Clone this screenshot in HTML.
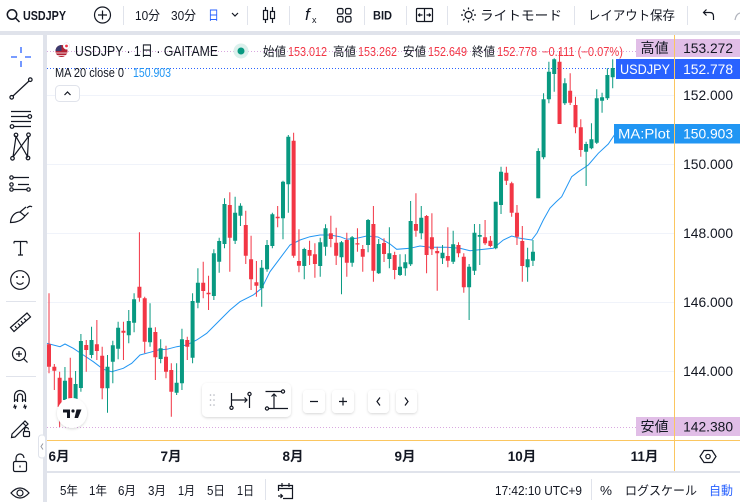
<!DOCTYPE html>
<html><head><meta charset="utf-8"><style>
html,body{margin:0;padding:0;background:#e0e3eb;}
body{width:740px;height:502px;overflow:hidden;position:relative;font-family:"Liberation Sans","Noto Sans CJK JP",sans-serif;}
svg{position:absolute;left:0;top:0;}
text{font-family:"Liberation Sans","Noto Sans CJK JP",sans-serif;}
</style></head><body>
<svg width="740" height="502" viewBox="0 0 740 502" xmlns="http://www.w3.org/2000/svg">
<defs>
<filter id="sh" x="-20%" y="-20%" width="140%" height="160%"><feDropShadow dx="0" dy="1" stdDeviation="1.4" flood-color="#000" flood-opacity="0.16"/></filter>
<clipPath id="pane"><rect x="47" y="35" width="627" height="405"/></clipPath>
</defs>
<!-- panels -->
<rect x="0" y="0" width="740" height="31" fill="#fff"/>
<rect x="0" y="35" width="43" height="467" fill="#fff"/>
<rect x="47" y="35" width="693" height="436" fill="#fff"/>
<rect x="47" y="473" width="693" height="29" fill="#fff"/>

<!-- top toolbar -->
<g fill="none" stroke="#131722" stroke-width="1.5">
<circle cx="12" cy="14.5" r="4.7"/><path d="M15.5 18L19.5 22"/>
</g>
<text x="23" y="20" font-size="13" font-weight="bold" fill="#131722" textLength="43" lengthAdjust="spacingAndGlyphs">USDJPY</text>
<g fill="none" stroke="#131722" stroke-width="1.2">
<circle cx="102.5" cy="15" r="8"/><path d="M102.5 10.5V19.5M98 15H107"/>
</g>
<g stroke="#e0e3eb" stroke-width="1">
<path d="M123.5 6V25M247.5 6V25M289.5 6V25M364.5 6V25M406.5 6V25M447.5 6V25M574.5 6V25M687.5 6V25"/>
</g>
<text x="135" y="20" font-size="13" fill="#131722" textLength="25" lengthAdjust="spacingAndGlyphs">10分</text>
<text x="171" y="20" font-size="13" fill="#131722" textLength="25" lengthAdjust="spacingAndGlyphs">30分</text>
<text x="208" y="20" font-size="13" fill="#2962ff" textLength="11" lengthAdjust="spacingAndGlyphs">日</text>
<path d="M232 13L235 16L238 13" fill="none" stroke="#131722" stroke-width="1.2"/>
<g fill="none" stroke="#131722" stroke-width="1.2">
<path d="M265.5 7V23M272.5 7V23"/>
<rect x="263.5" y="10.5" width="4" height="9" fill="#fff"/>
<rect x="270.5" y="11.5" width="4" height="7" fill="#fff"/>
</g>
<text x="305" y="20" font-size="17" font-family="Liberation Serif, serif" font-style="italic" fill="#131722">f</text>
<text x="312" y="23" font-size="9" fill="#131722">x</text>
<g fill="none" stroke="#131722" stroke-width="1.2">
<rect x="337.5" y="8.5" width="5.5" height="5.5" rx="1.5"/><rect x="345.5" y="8.5" width="5.5" height="5.5" rx="1.5"/>
<rect x="337.5" y="16.5" width="5.5" height="5.5" rx="1.5"/><rect x="345.5" y="16.5" width="5.5" height="5.5" rx="1.5"/>
</g>
<text x="373" y="19.5" font-size="12" font-weight="bold" fill="#131722" textLength="19" lengthAdjust="spacingAndGlyphs">BID</text>
<g fill="none" stroke="#131722" stroke-width="1.2">
<rect x="416.5" y="8.5" width="16" height="13" rx="1"/><path d="M424.5 8.5V21.5M418.5 15H422.5M426.5 15H430.5M420 13.5L418.5 15L420 16.5M429 13.5L430.5 15L429 16.5"/>
</g>
<g fill="none" stroke="#131722" stroke-width="1.2">
<circle cx="468.5" cy="15" r="3.5"/>
<path d="M468.5 7.5V9.5M468.5 20.5V22.5M461 15H463M474 15H476M463.2 9.7L464.6 11.1M472.4 18.9L473.8 20.3M463.2 20.3L464.6 18.9M472.4 11.1L473.8 9.7"/>
</g>
<text x="480" y="20" font-size="13" fill="#131722" textLength="82" lengthAdjust="spacingAndGlyphs">ライトモード</text>
<text x="588" y="20" font-size="13" fill="#131722" textLength="87" lengthAdjust="spacingAndGlyphs">レイアウト保存</text>
<path d="M704 12.5H710Q713.5 12.5 713.5 16.5V20M706.5 9.5L703.5 12.5L706.5 15.5" fill="none" stroke="#131722" stroke-width="1.2"/>
<path d="M735 20Q736 14 740 13" fill="none" stroke="#b2b5be" stroke-width="1.2"/>

<!-- left toolbar -->
<g fill="none" stroke="#2962ff" stroke-width="1.3"><path d="M21 47V53M21 61V67M11 57H17M25 57H31"/></g>
<g fill="none" stroke="#131722" stroke-width="1.2">
<path d="M13 96L29 81"/><circle cx="11.7" cy="97.3" r="1.8"/><circle cx="30.3" cy="79.7" r="1.8"/>
<path d="M11 111.5H31M11 116.5H28M11 121.5H31M14 126.5H31"/><circle cx="29.8" cy="116.5" r="1.8"/><circle cx="12" cy="126.5" r="1.8"/>
<path d="M13 157L16 136.5L27.5 156.5L28.5 136.5M13 157L28.5 136.5"/><circle cx="12.5" cy="158.3" r="1.8"/><circle cx="16" cy="135" r="1.8"/><circle cx="28.5" cy="134.8" r="1.8"/><circle cx="28" cy="158" r="1.8"/>
<path d="M13 177.5H29M18 184.5H29M13 189.5H27"/><circle cx="11.5" cy="177.5" r="1.7"/><circle cx="11.5" cy="184.5" r="1.7"/><circle cx="28.5" cy="189.5" r="1.7"/><circle cx="11.5" cy="189.5" r="1.7"/>
<path d="M10.5 222.5C11 216 15 212 20 212L25 216C22 220 17 222.5 10.5 222.5ZM20 212L26 207M25 216L28.5 212.5M27 208Q30 205 32 207"/>
<path d="M14 241.5H27M20.5 241.5V255M18 255H23M14 241.5V243.5M27 241.5V243.5"/>
<circle cx="20" cy="280" r="9.3"/><path d="M16.5 282.5Q20 286 23.5 282.5"/>
<path d="M10.5 327.5L27 313L30.5 317L14 331.5ZM15 326L16.5 328M18 323.5L20 325.5M21 321L22.5 323M24 318.5L26 320.5"/>
<circle cx="19" cy="354" r="6.5"/><path d="M23.6 358.6L27.5 362.5M16 354H22M19 351V357"/>
<path d="M14.5 402V396A5.5 5.5 0 0 1 25.5 396V402M17.5 402V396.5A2.5 2.5 0 0 1 22.5 396.5V402M14.5 400H17.5M22.5 400H25.5"/>
<path d="M15 404.5L14 407L16 406.5L15 409M25 404.5L24 407L26 406.5L25 409"/>
<path d="M12 434L25 421L28 424L15 437L11.5 437.5ZM23 423L26 426"/><rect x="23.5" y="431.5" width="6" height="5" rx="1"/><path d="M24.5 431.5V429.5A2 2 0 0 1 28.5 429.5"/>
<rect x="13.5" y="461.5" width="13" height="10" rx="1.5"/><path d="M16 461.5V458A4 4 0 0 1 24 458"/><path d="M20 465.5V467.5"/>
<path d="M11 493Q20 483 29 493Q20 503 11 493Z"/><circle cx="20" cy="493" r="3"/>
</g>
<g fill="#131722"><circle cx="17" cy="277" r="1"/><circle cx="23" cy="277" r="1"/></g>
<path d="M6 301.5H36M6 376.5H36" stroke="#e0e3eb"/>
<rect x="38.5" y="435" width="7" height="23" rx="3" fill="#fff" stroke="#e0e3eb"/>
<path d="M43 443.5L41 446.5L43 449.5" fill="none" stroke="#9598a1" stroke-width="1"/>

<!-- grid -->
<g stroke="#f0f3fa" stroke-width="1">
<path d="M47 95.5H674M47 164.5H674M47 233.5H674M47 302.5H674M47 371.5H674"/>
</g>

<!-- dotted lines -->
<path d="M47 51.5H636" stroke="#d9a8e0" stroke-width="1" stroke-dasharray="1 2"/>
<path d="M47 427.5H636" stroke="#d9a8e0" stroke-width="1" stroke-dasharray="1 2"/>
<path d="M47 68.5H616" stroke="#2962ff" stroke-width="1" stroke-dasharray="1 2"/>

<g clip-path="url(#pane)">
<!-- MA -->
<polyline fill="none" stroke="#2196f3" stroke-width="1" points="47,343.3 60,346.7 65,344 73.3,348.3 83.3,355 93.3,361.7 103.3,369.3 111.7,371.7 123.3,368.3 131.7,363.3 140,355 150,352.3 158.3,350 166.7,349.3 176.7,346.7 186.7,345 196.7,340 206.7,333.3 220,320 230,310 240,301.7 253.3,295 261.7,288.3 270,271.7 280,258.3 290,245 300,240 310,236.7 320,235 330,235 340,236.7 346.7,239.3 356.7,238.3 366.7,236 378,237 390,244 396.7,249.3 410,248.3 420,246 430,247.3 446.7,247.3 460,248.3 470,250.7 493.3,248.3 503.3,240 511.7,236 520,238.3 531.7,240 537,233 543.3,220 550,208 556,202 561.7,196.7 571.7,176.7 578.3,171.7 588.3,165 598.3,153.3 608.3,144 615,134"/>
<!-- red wicks -->
<path fill="none" stroke="#f23645" stroke-width="1" d="M49 293.3V373.3M54.32 364V390M59.64 371.7V427M70.27 357.7V403M86.23 340V371.7M96.86 320V360M102.18 346.7V399.3M123.45 321.7V360M139.41 232.3V301.7M144.72 296.7V353.3M155.36 327.3V380M166 345.7V378.3M171.31 363.3V416.7M187.27 336.7V360M203.22 261.7V298.3M208.54 275.7V310M229.81 192.3V271.7M245.77 210.7V264M251.08 235.7V290M256.4 261V296.7M277.67 206V227.3M293.63 132.7V257.7M298.95 229.3V272.3M309.58 240.7V265M314.9 243.3V277.7M330.85 215.7V247.3M336.17 227.7V265M346.81 232.7V276.7M357.44 228.3V251.7M362.76 245V271.7M373.4 206V281.7M384.03 238.3V262M394.67 251.7V279.3M415.94 193.3V236.7M426.58 215V273.3M431.9 213.3V255M437.21 246.7V290.7M447.85 227.3V267.3M458.49 242.3V257.3M463.8 253.3V292.7M485.08 220V245M490.39 236V247.3M506.35 166.7V185M511.67 181.7V216.7M516.98 205V245M522.3 226V281.7M559.53 51V124M570.16 73.3V105M575.48 96.7V133.3M580.8 119.3V156.7"/>
<!-- red bodies -->
<path fill="#f23645" d="M47 344.3h4V366.7h-4zM52.32 366.7h4V370.7h-4zM57.64 377.7h4V407h-4zM68.27 377.7h4V400h-4zM84.23 345h4V350h-4zM94.86 344.3h4V351h-4zM100.18 355.7h4V388.3h-4zM121.45 330.7h4V332.7h-4zM137.41 286.7h4V297.7h-4zM142.72 298.3h4V341.7h-4zM153.36 332h4V357.3h-4zM164 356.7h4V371.7h-4zM169.31 370h4V391.7h-4zM185.27 340h4V346.7h-4zM201.22 282.7h4V291h-4zM206.54 292.7h4V294.3h-4zM227.81 205h4V237.7h-4zM243.77 225h4V255.7h-4zM249.08 259.3h4V279.3h-4zM254.4 282.3h4V285.7h-4zM275.67 216.7h4V218.3h-4zM291.63 140.7h4V255.7h-4zM296.95 261h4V265.7h-4zM307.58 250h4V255.7h-4zM312.9 254.3h4V264h-4zM328.85 233.3h4V239h-4zM334.17 242.7h4V255.7h-4zM344.81 240h4V262.7h-4zM355.44 243.3h4V244.5h-4zM360.76 249h4V256.7h-4zM371.4 224h4V270.7h-4zM382.03 243h4V254h-4zM392.67 255h4V270h-4zM413.94 224h4V230.7h-4zM424.58 216h4V255h-4zM429.9 237.3h4V249.3h-4zM435.21 251h4V253.3h-4zM445.85 256h4V260.7h-4zM456.49 245h4V253.3h-4zM461.8 256.7h4V287.3h-4zM483.08 237.3h4V243.3h-4zM488.39 240.7h4V246h-4zM504.35 172.7h4V180.7h-4zM509.67 183.3h4V212.7h-4zM514.98 212.7h4V236.7h-4zM520.3 241h4V266h-4zM557.53 61.7h4V124h-4zM568.16 90.7h4V102.7h-4zM573.48 105h4V127.3h-4zM578.8 127.3h4V150h-4z"/>
<!-- green wicks -->
<path fill="none" stroke="#089981" stroke-width="1" d="M64.95 367V403M75.59 371V403M80.91 334V391.7M91.54 326.7V358.3M107.5 355V412.7M112.82 340.7V383.3M118.13 321.7V359.3M128.77 310V343.3M134.09 293.3V332.3M150.04 303.3V346.7M160.68 339.3V363.3M176.63 363.3V395M181.95 328.7V390M192.59 293.3V363.3M197.9 268.3V308.3M213.86 249.3V300M219.18 237.7V272.7M224.49 198.3V248.3M235.13 196.7V244M240.45 203.3V226M261.72 260V306.7M267.04 240V271.7M272.36 212.7V248.3M282.99 180.7V239.3M288.31 135V212.7M304.26 247.7V279.3M320.22 237.7V276.7M325.54 224.3V255.7M341.49 241V294.3M352.13 236V266.7M368.08 219V252.3M378.72 239V274M389.35 227.3V268.3M399.99 254.3V276M405.31 254.3V275.7M410.62 201V266M421.26 206V239.3M442.53 245V264M453.17 230.7V264M469.12 264V320M474.44 224V275M479.76 224V265M495.71 201.7V249.3M501.03 166.7V214M527.62 247.7V281.7M532.94 240V266M538.26 148.3V198.3M543.57 93.3V159.3M548.89 61.7V103.3M554.21 58.3V91.7M564.85 78.3V105M586.12 141.7V186M591.44 123.3V149.3M596.75 89.3V144M602.07 92.7V112.7M607.39 68.3V100M612.71 59.3V88.3"/>
<!-- green bodies -->
<path fill="#089981" d="M62.95 380.7h4V400h-4zM73.59 384h4V400h-4zM78.91 341h4V388h-4zM89.54 340h4V355h-4zM105.5 366.7h4V388.3h-4zM110.82 345.3h4V361.7h-4zM116.13 327.7h4V348.7h-4zM126.77 321h4V335.3h-4zM132.09 299.3h4V322.7h-4zM148.04 327.7h4V342.3h-4zM158.68 348.3h4V359h-4zM174.63 382.7h4V392.7h-4zM179.95 339.3h4V383.3h-4zM190.59 301h4V357.7h-4zM195.9 282.7h4V302.7h-4zM211.86 253.3h4V296h-4zM217.18 241h4V261.7h-4zM222.49 204h4V244h-4zM233.13 212.7h4V240.7h-4zM238.45 205.7h4V215.7h-4zM259.72 267.7h4V288.3h-4zM265.04 245h4V269.3h-4zM270.36 214.3h4V246h-4zM280.99 181.7h4V218.3h-4zM286.31 136.7h4V184.3h-4zM302.26 249h4V266h-4zM318.22 242.3h4V266h-4zM323.54 228.3h4V246.7h-4zM339.49 242.3h4V257.3h-4zM350.13 237.3h4V262.7h-4zM366.08 220h4V245h-4zM376.72 244h4V273.3h-4zM387.35 253.3h4V259h-4zM397.99 266.7h4V275h-4zM403.31 262.3h4V268.3h-4zM408.62 221h4V264.3h-4zM419.26 217.7h4V233.3h-4zM440.53 252.7h4V258.3h-4zM451.17 244.3h4V261.7h-4zM467.12 266.7h4V287.3h-4zM472.44 232.7h4V270.7h-4zM477.76 235h4V236.7h-4zM493.71 201.7h4V248.3h-4zM499.03 171.7h4V205h-4zM525.62 259.3h4V267.3h-4zM530.94 251.7h4V260.7h-4zM536.26 151h4V198.3h-4zM541.57 99.3h4V157.3h-4zM546.89 71.7h4V99.3h-4zM552.21 59.3h4V74h-4zM562.85 83.3h4V103.3h-4zM584.12 144h4V151.7h-4zM589.44 139.3h4V148.3h-4zM594.75 98.3h4V142.7h-4zM600.07 97.3h4V100.7h-4zM605.39 75h4V98.3h-4zM610.71 68h4V77.3h-4z"/>
</g>

<!-- legend -->
<circle cx="61.5" cy="51" r="6" fill="#b22234"/>
<path d="M61.5 45A6 6 0 0 0 55.5 51H61.5Z" fill="#3c3b6e"/>
<path d="M56 53H67M57 55.5H66" stroke="#fff" stroke-width="0.8"/>
<circle cx="66.5" cy="46" r="3.3" fill="#fff" stroke="#e0e3eb" stroke-width="0.5"/>
<circle cx="66.5" cy="46" r="1.4" fill="#f23645"/>
<text x="75" y="56" font-size="14.5" fill="#131722" textLength="143" lengthAdjust="spacingAndGlyphs">USDJPY · 1日 · GAITAME</text>
<circle cx="241" cy="51" r="7.5" fill="#dbf0ec"/>
<circle cx="241" cy="51" r="3.5" fill="#089981"/>
<g font-size="12.5">
<text x="263" y="56" fill="#131722" textLength="23" lengthAdjust="spacingAndGlyphs">始値</text>
<text x="288" y="56" fill="#f23645" textLength="39" lengthAdjust="spacingAndGlyphs">153.012</text>
<text x="333" y="56" fill="#131722" textLength="23" lengthAdjust="spacingAndGlyphs">高値</text>
<text x="358" y="56" fill="#f23645" textLength="39" lengthAdjust="spacingAndGlyphs">153.262</text>
<text x="403" y="56" fill="#131722" textLength="23" lengthAdjust="spacingAndGlyphs">安値</text>
<text x="428" y="56" fill="#f23645" textLength="39" lengthAdjust="spacingAndGlyphs">152.649</text>
<text x="472" y="56" fill="#131722" textLength="23" lengthAdjust="spacingAndGlyphs">終値</text>
<text x="497" y="56" fill="#f23645" textLength="40" lengthAdjust="spacingAndGlyphs">152.778</text>
<text x="542" y="56" fill="#f23645" textLength="81" lengthAdjust="spacingAndGlyphs">−0.111 (−0.07%)</text>
<text x="55" y="77" fill="#131722" textLength="69" lengthAdjust="spacingAndGlyphs">MA 20 close 0</text>
<text x="133" y="77" fill="#2196f3" textLength="38" lengthAdjust="spacingAndGlyphs">150.903</text>
</g>
<rect x="55.5" y="85.5" width="24" height="16" rx="4" fill="#fff" stroke="#e0e3eb"/>
<path d="M64.5 95L67.5 92L70.5 95" fill="none" stroke="#131722" stroke-width="1.2"/>

<!-- price axis -->
<g font-size="13.8" fill="#131722" text-anchor="end">
<text x="733" y="100">152.000</text>
<text x="733" y="169">150.000</text>
<text x="733" y="238">148.000</text>
<text x="733" y="307">146.000</text>
<text x="733" y="376">144.000</text>
</g>
<rect x="636" y="39" width="104" height="18" fill="#e1bee7"/>
<text x="654.5" y="53" font-size="14" fill="#131722" text-anchor="middle">高値</text>
<text x="733" y="53" font-size="13.8" fill="#131722" text-anchor="end">153.272</text>
<rect x="616" y="59" width="124" height="20" fill="#2962ff"/>
<text x="645" y="74" font-size="13.5" fill="#fff" text-anchor="middle" textLength="50" lengthAdjust="spacingAndGlyphs">USDJPY</text>
<text x="733" y="74" font-size="13.8" fill="#fff" text-anchor="end">152.778</text>
<rect x="614" y="124" width="126" height="19.5" fill="#2196f3"/>
<text x="644" y="138.5" font-size="13.5" fill="#fff" text-anchor="middle" textLength="52" lengthAdjust="spacingAndGlyphs">MA:Plot</text>
<text x="733" y="138.5" font-size="13.8" fill="#fff" text-anchor="end">150.903</text>
<rect x="636" y="417" width="104" height="19" fill="#e1bee7"/>
<text x="654.5" y="431.5" font-size="14" fill="#131722" text-anchor="middle">安値</text>
<text x="733" y="431.5" font-size="13.8" fill="#131722" text-anchor="end">142.380</text>

<!-- nav widget -->
<g filter="url(#sh)" fill="#fff">
<rect x="202" y="383" width="89" height="34" rx="5"/>
<rect x="303" y="390" width="22" height="23" rx="4"/>
<rect x="332" y="390" width="22" height="23" rx="4"/>
<rect x="368" y="390" width="21" height="23" rx="4"/>
<rect x="396" y="390" width="21" height="23" rx="4"/>
</g>
<g fill="#b2b5be"><circle cx="210.5" cy="395" r="0.8"/><circle cx="214" cy="395" r="0.8"/><circle cx="210.5" cy="400" r="0.8"/><circle cx="214" cy="400" r="0.8"/><circle cx="210.5" cy="405" r="0.8"/><circle cx="214" cy="405" r="0.8"/></g>
<g fill="none" stroke="#131722" stroke-width="1.2">
<path d="M231.5 393V406M231.5 400H247M244.5 397.5L247 400L244.5 402.5M249.5 396V408"/><circle cx="231.5" cy="407.8" r="1.6"/><circle cx="249.5" cy="394" r="1.6"/>
<path d="M265.5 391.5H281M274 408V394M271.5 396.5L274 394L276.5 396.5M269 408.5H288"/><circle cx="283" cy="391.5" r="1.6"/><circle cx="267" cy="408.5" r="1.6"/>
<path d="M310 401.5H318M339 401.5H347M343 397.5V405.5M380 397.5L377 401.5L380 405.5M405 397.5L408 401.5L405 405.5"/>
</g>

<!-- TV logo -->
<circle cx="72" cy="413" r="15" fill="#fff" filter="url(#sh)"/>
<path d="M63 409.5H70V418H67V412.5H63Z" fill="#131722"/>
<circle cx="73" cy="411" r="1.6" fill="#131722"/>
<path d="M76.5 409.5H81.5L78 418H74.5Z" fill="#131722"/>

<!-- orange separators -->
<path d="M674.5 35V471M47 440.5H740" stroke="#fbc660" stroke-width="1"/>

<!-- time axis -->
<g font-size="13.5" font-weight="bold" fill="#131722" text-anchor="middle">
<text x="59" y="461">6月</text>
<text x="171" y="461">7月</text>
<text x="293" y="461">8月</text>
<text x="405" y="461">9月</text>
<text x="522" y="461">10月</text>
<text x="644.5" y="461">11月</text>
</g>
<path d="M704 450.5L712 450.5L716 456.5L712 462.5L704 462.5L700 456.5Z" fill="none" stroke="#131722" stroke-width="1.2"/>
<circle cx="708" cy="456.5" r="2.2" fill="none" stroke="#131722" stroke-width="1.2"/>

<!-- bottom toolbar -->
<g font-size="12.5" fill="#131722">
<text x="60" y="495" textLength="18" lengthAdjust="spacingAndGlyphs">5年</text>
<text x="89" y="495" textLength="18" lengthAdjust="spacingAndGlyphs">1年</text>
<text x="118" y="495" textLength="18" lengthAdjust="spacingAndGlyphs">6月</text>
<text x="148" y="495" textLength="18" lengthAdjust="spacingAndGlyphs">3月</text>
<text x="178" y="495" textLength="17" lengthAdjust="spacingAndGlyphs">1月</text>
<text x="207" y="495" textLength="18" lengthAdjust="spacingAndGlyphs">5日</text>
<text x="237" y="495" textLength="17" lengthAdjust="spacingAndGlyphs">1日</text>
<text x="495" y="495" textLength="87" lengthAdjust="spacingAndGlyphs">17:42:10 UTC+9</text>
<text x="600" y="495" textLength="12" lengthAdjust="spacingAndGlyphs">%</text>
<text x="625" y="495" textLength="72" lengthAdjust="spacingAndGlyphs">ログスケール</text>
<text x="709" y="495" fill="#2962ff" textLength="24" lengthAdjust="spacingAndGlyphs">自動</text>
</g>
<path d="M265.5 479V500M591.5 479V500" stroke="#e0e3eb"/>
<g fill="none" stroke="#131722" stroke-width="1.2">
<path d="M278.5 491V485.5H292.5V498.5H283M278.5 488.5H292.5M282 483V487M289 483V487M278 496H282.5M280.5 494L282.5 496L280.5 498"/>
</g>
</svg>
</body></html>
